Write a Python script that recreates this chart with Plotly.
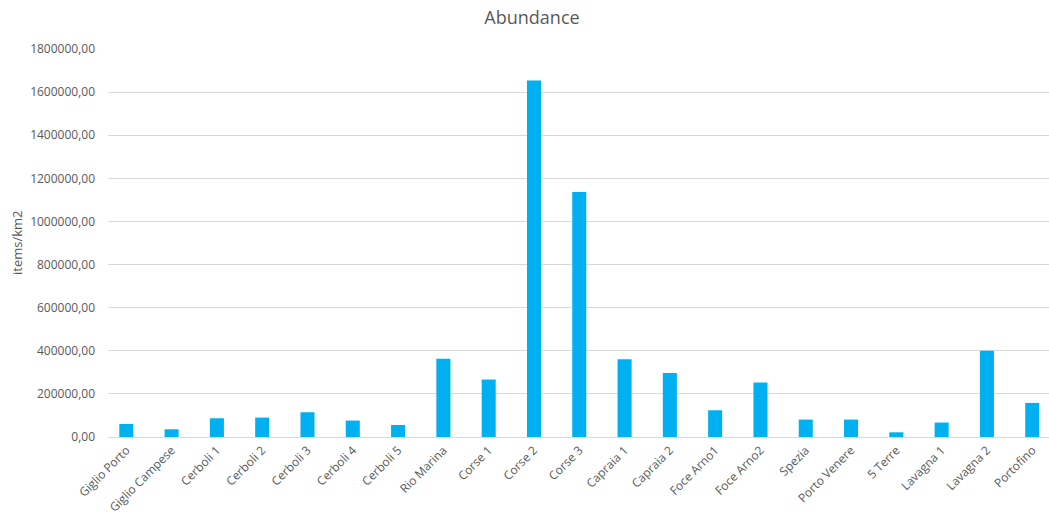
import plotly.graph_objects as go

# Sampling sites along the coast
sites = [
    "Giglio Porto", "Giglio Campese", "Cerboli 1", "Cerboli 2", "Cerboli 3",
    "Cerboli 4", "Cerboli 5", "Rio Marina", "Corse 1", "Corse 2", "Corse 3",
    "Capraia 1", "Capraia 2", "Foce Arno1", "Foce Arno2", "Spezia",
    "Porto Venere", "5 Terre", "Lavagna 1", "Lavagna 2", "Portofino",
]
# Abundance (items/km2) per site
abundance = [
    60500, 35800, 86900, 90000, 114800,
    76200, 55800, 362500, 266700, 1654000, 1137000,
    361000, 297400, 124000, 252800, 80800,
    80800, 21800, 66900, 399600, 158000,
]

# y-axis tick values
y_ticks = [0, 200000, 400000, 600000, 800000, 1000000, 1200000,
           1400000, 1600000, 1800000]

W, H = 1049, 516
ML, MR, MT, MB = 108, 0, 49, 79
PW = W - ML - MR

fig = go.Figure(
    go.Bar(
        x=sites,
        y=abundance,
        marker=dict(color="#00B0F0", line=dict(width=0)),
        hoverinfo="x+y",
    )
)

fig.update_layout(
    width=W,
    height=H,
    margin=dict(l=ML, r=MR, t=MT, b=MB, pad=0),
    paper_bgcolor="white",
    plot_bgcolor="white",
    separators=",.",
    bargap=0.69,
    showlegend=False,
    font=dict(family="Open Sans, Liberation Sans, sans-serif", color="#595959"),
    title=dict(
        text="Abundance",
        x=(532 - ML) / PW,
        xref="paper",
        y=1 - 18 / H,
        yanchor="middle",
        xanchor="center",
        font=dict(size=18, color="#595959"),
    ),
    xaxis=dict(
        type="category",
        range=[-0.404, 20.37],
        tickangle=-45,
        tickfont=dict(size=12, color="#595959"),
        ticklabelstandoff=3,
        showgrid=False,
        showline=False,
        ticks="",
        zeroline=False,
    ),
    yaxis=dict(
        range=[0, 1800000],
        tickvals=y_ticks,
        tickformat=".2f",
        tickfont=dict(size=12, color="#595959"),
        showgrid=True,
        gridcolor="#D9D9D9",
        gridwidth=1,
        zeroline=True,
        zerolinecolor="#D9D9D9",
        zerolinewidth=1,
        showline=False,
        ticks="",
        ticklabelstandoff=12,
    ),
    annotations=[
        dict(
            text="items/km2",
            textangle=-90,
            xref="paper",
            yref="paper",
            x=(17 - ML) / PW,
            y=(H - MB - 243) / (H - MB - MT),
            xanchor="center",
            yanchor="middle",
            showarrow=False,
            font=dict(size=13, color="#595959"),
        )
    ],
)

fig.write_html("out.html")
